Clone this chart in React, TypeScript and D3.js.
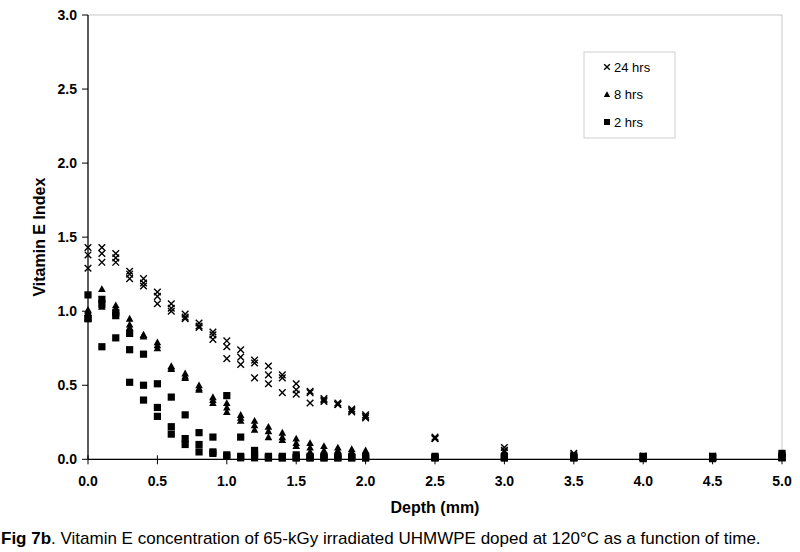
import React from "react";
import * as d3 from "d3";

const depths = [0, 0.1, 0.2, 0.3, 0.4, 0.5, 0.6, 0.7, 0.8, 0.9, 1.0, 1.1, 1.2, 1.3, 1.4, 1.5, 1.6, 1.7, 1.8, 1.9, 2.0, 2.5, 3.0, 3.5, 4.0, 4.5, 5.0];

const hrs24 = [
  [1.43, 1.38, 1.29], [1.43, 1.39, 1.33], [1.39, 1.36, 1.33], [1.27, 1.25, 1.22], [1.22, 1.19, 1.17],
  [1.13, 1.1, 1.05], [1.05, 1.02, 1.0], [0.98, 0.96, 0.95], [0.92, 0.9, 0.89], [0.86, 0.84, 0.81],
  [0.8, 0.76, 0.68], [0.74, 0.69, 0.64], [0.67, 0.65, 0.55], [0.63, 0.57, 0.51], [0.57, 0.55, 0.45],
  [0.51, 0.47, 0.44], [0.46, 0.45, 0.38], [0.41, 0.4, 0.39], [0.38, 0.37, 0.37], [0.34, 0.33, 0.32],
  [0.3, 0.29, 0.28], [0.15, 0.14, 0.14], [0.08, 0.06, 0.05], [0.04, 0.03, 0.02], [0.02, 0.02, 0.01],
  [0.02, 0.01, 0.01], [0.03, 0.02, 0.01],
];

const hrs8 = [
  [1.01, 1.0, 0.99], [1.15, 1.04, 1.03], [1.04, 1.02, 1.0], [0.95, 0.91, 0.89], [0.84, 0.84, 0.83],
  [0.79, 0.77, 0.75], [0.63, 0.62, 0.61], [0.58, 0.56, 0.55], [0.5, 0.48, 0.47], [0.42, 0.4, 0.38],
  [0.38, 0.35, 0.32], [0.3, 0.28, 0.26], [0.26, 0.23, 0.2], [0.22, 0.19, 0.15], [0.18, 0.15, 0.13],
  [0.14, 0.11, 0.09], [0.11, 0.08, 0.05], [0.09, 0.06, 0.04], [0.08, 0.06, 0.04], [0.07, 0.05, 0.03],
  [0.06, 0.03, 0.02], [0.02, 0.01, 0.01], [0.02, 0.01, 0.01], [0.02, 0.01, 0.01], [0.01, 0.01, 0.0],
  [0.01, 0.01, 0.0], [0.02, 0.01, 0.01],
];

const hrs2 = [
  [1.11, 0.95, 0.95], [1.08, 1.05, 0.76], [0.99, 0.97, 0.82], [0.85, 0.74, 0.52], [0.71, 0.5, 0.4],
  [0.51, 0.35, 0.29], [0.42, 0.22, 0.17], [0.3, 0.14, 0.1], [0.18, 0.1, 0.05], [0.15, 0.05, 0.04],
  [0.43, 0.03, 0.02], [0.15, 0.02, 0.01], [0.06, 0.03, 0.01], [0.02, 0.01, 0.01], [0.02, 0.01, 0.01],
  [0.03, 0.01, 0.01], [0.02, 0.01, 0.01], [0.02, 0.01, 0.01], [0.02, 0.01, 0.01], [0.02, 0.01, 0.01],
  [0.02, 0.01, 0.01], [0.02, 0.01, 0.01], [0.02, 0.01, 0.01], [0.02, 0.01, 0.01], [0.02, 0.01, 0.01],
  [0.02, 0.01, 0.01], [0.04, 0.02, 0.01],
];

const xTicks = [0, 0.5, 1, 1.5, 2, 2.5, 3, 3.5, 4, 4.5, 5];
const yTicks = [0, 0.5, 1, 1.5, 2, 2.5, 3];
const legendLabels = ["24 hrs", "8 hrs", "2 hrs"];

const FONT = "Arial, 'Liberation Sans', sans-serif";

function flatten(rows: number[][]) {
  const pts: [number, number][] = [];
  rows.forEach((r, i) => r.forEach((v) => pts.push([depths[i], v])));
  return pts;
}

const Cross = ({ cx, cy, s }: { cx: number; cy: number; s: number }) => (
  <path d={`M${cx - s},${cy - s}L${cx + s},${cy + s}M${cx - s},${cy + s}L${cx + s},${cy - s}`} stroke="#000" strokeWidth={1.4} fill="none" />
);
const Tri = ({ cx, cy, s }: { cx: number; cy: number; s: number }) => (
  <path d={`M${cx},${cy - s}L${cx + s},${cy + s * 0.8}L${cx - s},${cy + s * 0.8}Z`} fill="#000" />
);
const Sq = ({ cx, cy, s }: { cx: number; cy: number; s: number }) => (
  <rect x={cx - s} y={cy - s} width={2 * s} height={2 * s} fill="#000" />
);

export default function App() {
  const x = d3.scaleLinear().domain([0, 5]).range([88, 782]);
  const y = d3.scaleLinear().domain([0, 3]).range([459.3, 15]);
  const [x0, x1] = x.range();
  const [y0, y1] = y.range();

  const p2 = flatten(hrs2);
  const p8 = flatten(hrs8);
  const p24 = flatten(hrs24);

  return (
    <svg width={800} height={552} style={{ position: "absolute", left: 0, top: 0, background: "#fff" }} fontFamily={FONT}>
      <rect x={0} y={0} width={800} height={552} fill="#fff" />
      {/* plot area border */}
      <rect x={x0} y={y1} width={x1 - x0} height={y0 - y1} fill="none" stroke="#c8c8c8" strokeWidth={1} />
      {/* axes */}
      <line x1={x0} x2={x0} y1={y1} y2={y0} stroke="#000" strokeWidth={1.2} />
      <line x1={x0} x2={x1} y1={y0} y2={y0} stroke="#000" strokeWidth={1.2} />
      {yTicks.map((t) => (
        <g key={"y" + t}>
          <line x1={x0 - 6} x2={x0} y1={y(t)} y2={y(t)} stroke="#000" strokeWidth={1} />
          <text x={x0 - 11} y={y(t)} dy="0.36em" textAnchor="end" fontSize={14} fontWeight="bold">
            {d3.format(".1f")(t)}
          </text>
        </g>
      ))}
      {xTicks.map((t) => (
        <g key={"x" + t}>
          <line x1={x(t)} x2={x(t)} y1={y0 - 4} y2={y0 + 5} stroke="#000" strokeWidth={1} />
          <text x={x(t)} y={y0 + 27} textAnchor="middle" fontSize={14} fontWeight="bold">
            {d3.format(".1f")(t)}
          </text>
        </g>
      ))}
      <text x={(x0 + x1) / 2} y={513} textAnchor="middle" fontSize={16} fontWeight="bold">
        Depth (mm)
      </text>
      <text transform={`translate(45,${(y0 + y1) / 2}) rotate(-90)`} textAnchor="middle" fontSize={16} fontWeight="bold">
        Vitamin E Index
      </text>

      {/* data */}
      {p2.map(([d, v], i) => (
        <Sq key={"s" + i} cx={x(d)} cy={y(v)} s={3.6} />
      ))}
      {p8.map(([d, v], i) => (
        <Tri key={"t" + i} cx={x(d)} cy={y(v)} s={3.8} />
      ))}
      {p24.map(([d, v], i) => (
        <Cross key={"c" + i} cx={x(d)} cy={y(v)} s={3.3} />
      ))}

      {/* legend */}
      <rect x={584} y={52} width={91} height={86} fill="#fff" stroke="#d0d0d0" strokeWidth={1} />
      {legendLabels.map((lab, i) => {
        const ly = 67 + i * 27.5;
        return (
          <g key={lab}>
            {i === 0 && <Cross cx={607} cy={ly} s={2.8} />}
            {i === 1 && <Tri cx={607} cy={ly} s={3.2} />}
            {i === 2 && <Sq cx={607} cy={ly} s={3} />}
            <text x={614} y={ly} dy="0.36em" fontSize={13}>
              {lab}
            </text>
          </g>
        );
      })}

      {/* caption */}
      <text x={1} y={544} fontSize={17}>
        <tspan fontWeight="bold">Fig 7b</tspan>
        <tspan>. Vitamin E concentration of 65-kGy irradiated UHMWPE doped at 120°C as a function of time.</tspan>
      </text>
    </svg>
  );
}
